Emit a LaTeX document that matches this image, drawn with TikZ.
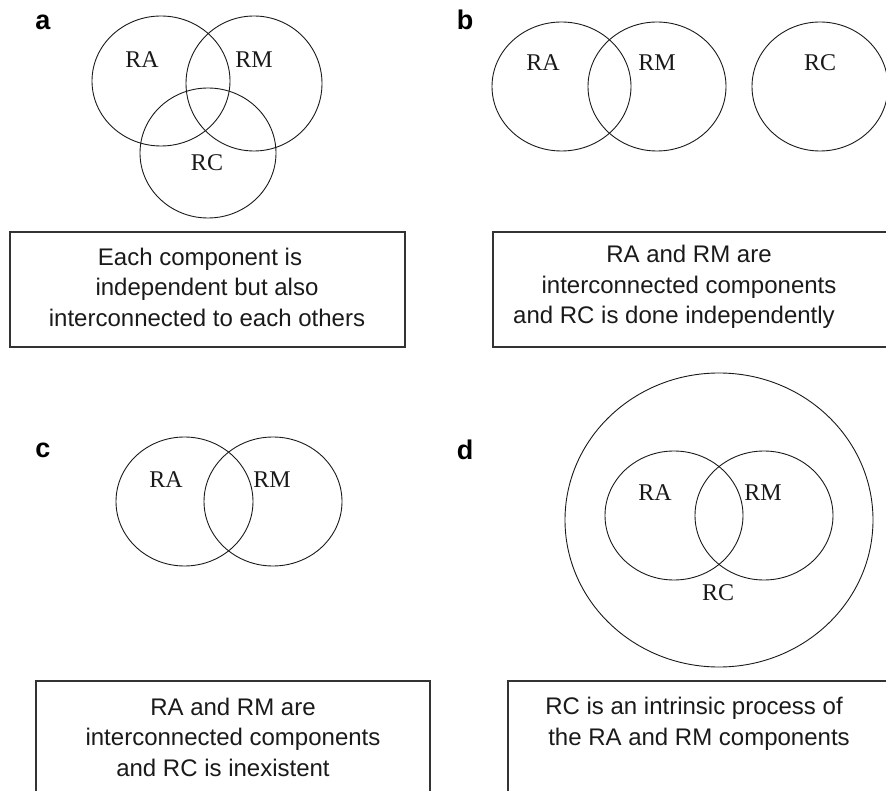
\documentclass[tikz,border=0pt]{standalone}
\usepackage{fontspec}
\setmainfont{Liberation Serif}
\setsansfont{Liberation Sans}
\usepackage{tikz}
\usetikzlibrary{positioning}
\definecolor{ink}{HTML}{1A1A1A}
\definecolor{boxline}{HTML}{333333}
\tikzset{
  setring/.style={draw=ink, line width=0.9pt},
  setlabel/.style={font=\fontsize{24}{24}\selectfont, inner sep=0pt, text=ink},
  panelbox/.style={
    draw=boxline,
    line width=1.1pt,
    rectangle,
    inner sep=0pt
  },
  captiontext/.style={
    font=\sffamily\fontsize{24}{30.5}\selectfont,
    align=center,
    inner sep=0pt,
    text=ink
  },
  panelletter/.style={font=\sffamily\bfseries\fontsize{27}{27}\selectfont, inner sep=0pt}
}

\begin{document}
\begin{tikzpicture}[x=1pt, y=-1pt]
  \useasboundingbox (0,0) rectangle (886,791);
  \clip (0,0) rectangle (886,791);
  \node[panelletter] (lettera) at (43,22) {a};
  \node[panelletter] (letterb) at (465,20) {b};
  \node[panelletter] (letterc) at (43,450) {c};
  \node[panelletter] (letterd) at (465,450) {d};
  \draw[setring] (161,81) ellipse [x radius=69, y radius=65];
  \draw[setring] (254,83.5) ellipse [x radius=68, y radius=67.5];
  \draw[setring] (208,153) ellipse [x radius=68, y radius=65];
  \node[setlabel] (raa) at (142,60) {RA};
  \node[setlabel] (rma) at (254,60) {RM};
  \node[setlabel] (rca) at (207,163) {RC};
  \node[panelbox, minimum width=395pt, minimum height=115pt] (boxa) at (207.5,289.5) {};
  \node[captiontext] (capa) at (207,287) {Each component is\hspace*{14pt}\\independent but also\\interconnected to each others};
  \draw[setring] (561.5,86.5) ellipse [x radius=69.5, y radius=64.5];
  \draw[setring] (657,86.5) ellipse [x radius=69, y radius=64.5];
  \draw[setring] (820,86.5) ellipse [x radius=68, y radius=64.5];
  \node[setlabel] (rab) at (543,63) {RA};
  \node[setlabel] (rmb) at (657,63) {RM};
  \node[setlabel] (rcb) at (820,63) {RC};
  \node[panelbox, minimum width=400pt, minimum height=115pt] (boxb) at (693,289.5) {};
  \node[captiontext] (capb) at (689,287) {RA and RM are\\interconnected components\\and RC is done independently\hspace*{30pt}};
  \draw[setring] (184.5,501.5) ellipse [x radius=68.5, y radius=64.5];
  \draw[setring] (273,501.5) ellipse [x radius=69, y radius=64.5];
  \node[setlabel] (rac) at (166,480) {RA};
  \node[setlabel] (rmc) at (272,480) {RM};
  \node[panelbox, minimum width=394pt, minimum height=114pt] (boxc) at (233,738) {};
  \node[captiontext] (capc) at (233,737) {RA and RM are\\interconnected components\\and RC is inexistent\hspace*{20pt}};
  \draw[setring] (719,520) ellipse [x radius=154, y radius=147];
  \draw[setring] (674,515.5) ellipse [x radius=69, y radius=64.5];
  \draw[setring] (764,515.5) ellipse [x radius=69, y radius=64.5];
  \node[setlabel] (rad) at (655,493) {RA};
  \node[setlabel] (rmd) at (763,493) {RM};
  \node[setlabel] (rcd) at (718,593) {RC};
  \node[panelbox, minimum width=400pt, minimum height=114pt] (boxd) at (708,738) {};
  \node[captiontext] (capd) at (699,724) {RC is an intrinsic process of\hspace*{10pt}\\the RA and RM components};
\end{tikzpicture}
\end{document}
